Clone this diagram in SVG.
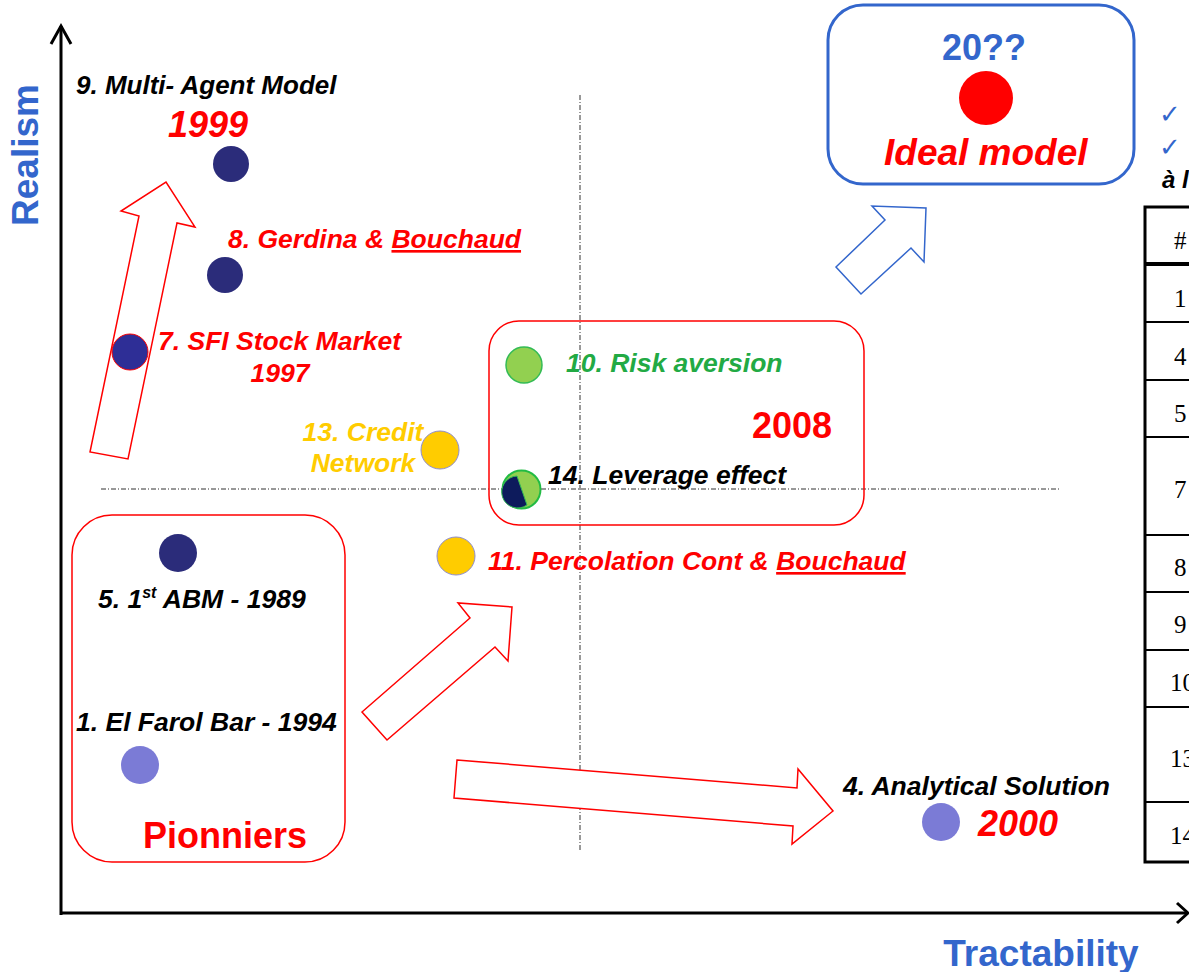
<svg xmlns="http://www.w3.org/2000/svg" width="1189" height="972" viewBox="0 0 1189 972">
<defs>
<style>
.lbl{font-family:"Liberation Sans",Arial,sans-serif;font-weight:bold;font-style:italic;font-size:26.5px}
.big{font-family:"Liberation Sans",Arial,sans-serif;font-weight:bold;font-size:36px}
.red{fill:#FF0000}
.blk{fill:#000000}
.blue{fill:#3366CC}
.yel{fill:#FFCC00}
.grn{fill:#22AA44}
.navy{fill:#2B2C7A}
.lav{fill:#7B7BD6}
.dash{stroke:#333;stroke-width:1;stroke-dasharray:5 2 1 2;fill:none}
.rarrow{fill:#fff;stroke:#FF0000;stroke-width:1.5;stroke-linejoin:miter}
.barrow{fill:#fff;stroke:#3366CC;stroke-width:1.5}
.tbl{font-family:"Liberation Serif","Times New Roman",serif;font-size:25px;fill:#000}
.chk{font-family:"DejaVu Sans",sans-serif;font-size:26px;font-weight:bold;fill:#3366CC}
</style>
</defs>
<rect width="1189" height="972" fill="#fff"/>

<g id="grid">
<line class="dash" x1="580" y1="95" x2="580" y2="852"/>
<line class="dash" x1="101" y1="489" x2="1060" y2="489"/>
</g>

<g id="axes" stroke="#000" stroke-width="3" fill="none">
<line x1="61" y1="915" x2="61" y2="26"/>
<polyline points="51,44 61,26 71,44"/>
<line x1="61" y1="913" x2="1186" y2="913"/>
<polyline points="1177,903 1188,913 1177,923"/>
</g>
<text class="big blue" transform="translate(38,155) rotate(-90)" text-anchor="middle" style="font-size:37px">Realism</text>
<text class="big blue" x="1041" y="966" text-anchor="middle" style="font-size:37px">Tractability</text>

<g id="connectors">
<polygon class="rarrow" points="90,452 139,216 121,211 166,182 195,227 177,223 128,459"/>
<polygon class="rarrow" points="362,712 470,618 458,603 512,607 508,661 495,647 387,740"/>
<polygon class="rarrow" points="457,760 797,788 798,769 833,811 792,844 793,826 454,798"/>
<polygon class="barrow" points="836,267 885,220 872,206 926,208 924,262 911,248 861,294"/>
</g>

<g id="box-pionniers">
<rect x="72" y="515" width="273" height="347" rx="40" fill="none" stroke="#FF0000" stroke-width="1.5"/>
<text class="big red" x="143" y="848">Pionniers</text>
</g>

<g id="box-2008">
<rect x="489" y="321" width="375" height="204" rx="30" fill="none" stroke="#FF0000" stroke-width="1.5"/>
<text class="big red" x="752" y="438">2008</text>
</g>

<g id="node-ideal">
<rect x="828" y="5" width="306" height="179" rx="35" fill="none" stroke="#3366CC" stroke-width="3"/>
<text class="big blue" x="984" y="60" text-anchor="middle">20??</text>
<circle cx="986" cy="98" r="27" fill="#FF0000"/>
<text class="lbl red" x="884" y="165" style="font-size:37px">Ideal model</text>
</g>

<g id="node-9">
<text class="lbl blk" x="76" y="94" style="font-size:26px">9. Multi- Agent Model</text>
<text class="lbl red" x="168" y="137" style="font-size:36px">1999</text>
<circle cx="231" cy="164" r="18" class="navy"/>
</g>

<g id="node-8">
<text class="lbl red" x="228" y="248">8. Gerdina &amp; <tspan text-decoration="underline">Bouchaud</tspan></text>
<circle cx="225" cy="275" r="18" class="navy"/>
</g>

<g id="node-7">
<circle cx="130" cy="352" r="18" fill="#2E2E96" stroke="#FF0000" stroke-width="1"/>
<text class="lbl red" x="158" y="350">7. SFI Stock Market</text>
<text class="lbl red" x="280" y="382" text-anchor="middle">1997</text>
</g>

<g id="node-13">
<text class="lbl yel" x="363" y="441" text-anchor="middle">13. Credit</text>
<text class="lbl yel" x="363" y="472" text-anchor="middle">Network</text>
<circle cx="440" cy="450" r="19" fill="#FFCC00" stroke="#8C8CD0" stroke-width="1"/>
</g>

<g id="node-11">
<circle cx="456" cy="556" r="19" fill="#FFCC00" stroke="#8C8CD0" stroke-width="1"/>
<text class="lbl red" x="488" y="570">11. Percolation Cont &amp; <tspan text-decoration="underline">Bouchaud</tspan></text>
</g>

<g id="node-10">
<circle cx="524" cy="365" r="18" fill="#92D050" stroke="#33BB55" stroke-width="1.5"/>
<text class="lbl grn" x="566" y="372">10. Risk aversion</text>
</g>

<g id="node-14">
<circle cx="521.5" cy="489.5" r="19" fill="#92D050" stroke="#22BB44" stroke-width="2"/>
<path d="M517,476 A16,16 0 1 0 527,505 Z" fill="#0D1B5C" stroke="#33BB55" stroke-width="1"/>
<text class="lbl blk" x="548" y="484">14. Leverage effect</text>
</g>

<g id="node-5">
<circle cx="178" cy="553" r="19" class="navy"/>
<text class="lbl blk" x="98" y="608">5. 1<tspan style="font-size:16px" dy="-10">st</tspan><tspan dy="10"> ABM - 1989</tspan></text>
</g>

<g id="node-1">
<text class="lbl blk" x="76" y="731">1. El Farol Bar - 1994</text>
<circle cx="140" cy="765" r="19" class="lav"/>
</g>

<g id="node-4">
<text class="lbl blk" x="843" y="795">4. Analytical Solution</text>
<circle cx="941" cy="822" r="19" class="lav"/>
<text class="lbl red" x="978" y="836" style="font-size:36px">2000</text>
</g>

<g id="side-notes">
<text class="chk" x="1159" y="123">✓</text>
<text class="chk" x="1159" y="156">✓</text>
<text class="lbl blk" x="1162" y="188" style="font-size:24px">à l</text>
</g>

<g id="table">
<rect x="1145" y="207" width="60" height="655" fill="none" stroke="#000" stroke-width="3"/>
<line x1="1145" y1="264" x2="1189" y2="264" stroke="#000" stroke-width="4"/>
<g stroke="#000" stroke-width="2">
<line x1="1145" y1="322" x2="1189" y2="322"/>
<line x1="1145" y1="380" x2="1189" y2="380"/>
<line x1="1145" y1="437" x2="1189" y2="437"/>
<line x1="1145" y1="535" x2="1189" y2="535"/>
<line x1="1145" y1="592" x2="1189" y2="592"/>
<line x1="1145" y1="650" x2="1189" y2="650"/>
<line x1="1145" y1="707" x2="1189" y2="707"/>
<line x1="1145" y1="802" x2="1189" y2="802"/>
</g>
<text class="tbl" x="1174" y="249">#</text>
<text class="tbl" x="1174" y="307">1</text>
<text class="tbl" x="1174" y="365">4</text>
<text class="tbl" x="1174" y="422">5</text>
<text class="tbl" x="1174" y="498">7</text>
<text class="tbl" x="1174" y="576">8</text>
<text class="tbl" x="1174" y="633">9</text>
<text class="tbl" x="1170" y="691">10</text>
<text class="tbl" x="1170" y="767">13</text>
<text class="tbl" x="1170" y="844">14</text>
</g>
</svg>
